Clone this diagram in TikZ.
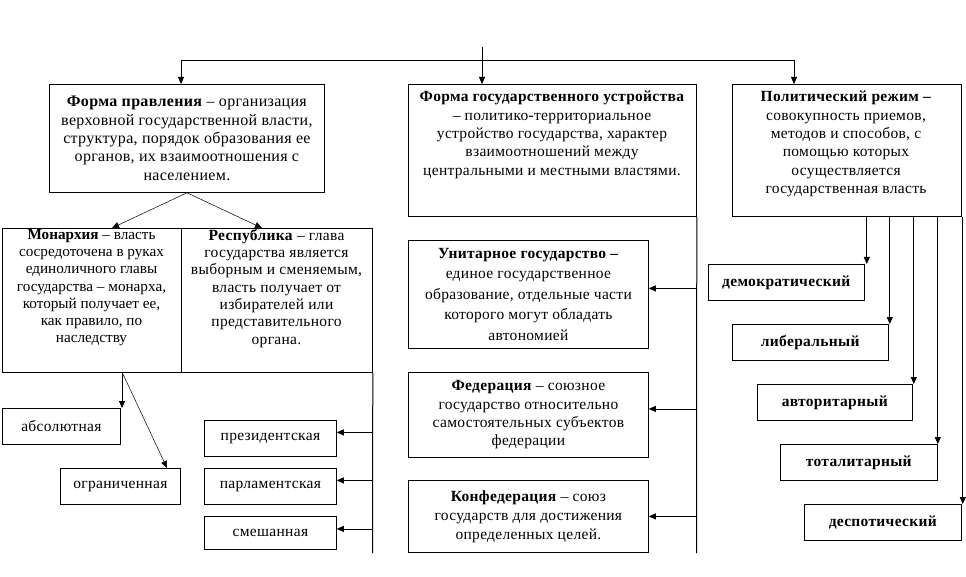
\documentclass[tikz,border=0pt]{standalone}
\usepackage{fontspec}
\setmainfont{Liberation Serif}[LetterSpace=2]
\newfontfamily\plainserif{Liberation Serif}
\usetikzlibrary{arrows.meta,calc}
\newcommand\fsz{\fontsize{15.5}{18.3}\selectfont}
\begin{document}
\begin{tikzpicture}[x=1pt,y=-1pt,
  box/.style={draw, line width=0.8pt, inner sep=0pt, align=center, font=\fsz, anchor=north west},
  txt/.style={inner sep=0pt, align=center, font=\fsz, anchor=north},
  ln/.style={line width=0.8pt},
  arr/.style={line width=0.8pt, -{Triangle[length=7pt,width=6pt]}},
  thin/.style={line width=0.5pt, -{Triangle[length=7pt,width=6pt]}}]
\fill[white] (0,0) rectangle (966,577);
\useasboundingbox (0,0) rectangle (966,577);

% top level
\node[box, minimum width=275pt, minimum height=108pt, font=\fontsize{16}{18.3}\selectfont] (b1) at (49,84)
 {\textbf{Форма правления} – организация\\верховной государственной власти,\\структура, порядок образования ее\\органов, их взаимоотношения с\\населением.};
\node[box, minimum width=288pt, minimum height=132pt] (b2) at (408,84) {};
\node[txt] (b2t) at (552,91)
 {\textbf{Форма государственного устройства}\\– политико-территориальное\\устройство государства, характер\\взаимоотношений между\\центральными и местными властями.};
\node[box, minimum width=229pt, minimum height=132pt] (b3) at (732,84) {};
\node[txt] (b3t) at (846,91)
 {\textbf{Политический режим –}\\совокупность приемов,\\методов и способов, с\\помощью которых\\осуществляется\\государственная власть};

% form of government
\node[box, minimum width=179pt, minimum height=144pt] (mon) at (2,228) {};
\node[txt, font=\plainserif\fontsize{15.2}{17.3}\selectfont] (mont) at (91.5,229)
 {\textbf{Монархия} – власть\\сосредоточена в руках\\единоличного главы\\государства – монарха,\\который получает ее,\\как правило, по\\наследству};
\node[box, minimum width=191pt, minimum height=144pt] (rep) at (181,228) {};
\node[txt, font=\fontsize{15.5}{17.3}\selectfont] (rept) at (276.5,229)
 {\textbf{Республика} – глава\\государства является\\выборным и сменяемым,\\власть получает от\\избирателей или\\представительного\\органа.};
\node[box, minimum width=118pt, minimum height=36pt] (abs) at (2,408) {абсолютная};
\node[box, minimum width=120pt, minimum height=36pt] (ogr) at (60,468) {ограниченная};
\node[box, minimum width=132pt, minimum height=36pt] (prez) at (204,420) {президентская};
\node[box, minimum width=132pt, minimum height=36pt] (parl) at (204,468) {парламентская};
\node[box, minimum width=132pt, minimum height=33pt] (smes) at (204,516) {смешанная};

% state structure
\node[box, minimum width=240pt, minimum height=108pt, font=\fontsize{15.5}{20.5}\selectfont] (unit) at (408,240)
 {\textbf{Унитарное государство –}\\единое государственное\\образование, отдельные части\\которого могут обладать\\автономией};
\node[box, minimum width=240pt, minimum height=85pt] (fed) at (408,372)
 {\textbf{Федерация} – союзное\\государство относительно\\самостоятельных субъектов\\федерации};
\node[box, minimum width=240pt, minimum height=72pt, font=\fontsize{15.5}{19}\selectfont] (konf) at (408,480)
 {\textbf{Конфедерация} – союз\\государств для достижения\\определенных целей.};

% regimes
\node[box, minimum width=156pt, minimum height=36pt] (dem) at (708,264) {\textbf{демократический}};
\node[box, minimum width=156pt, minimum height=36pt] (lib) at (732,324) {\textbf{либеральный}};
\node[box, minimum width=155pt, minimum height=36pt] (avt) at (757,384) {\textbf{авторитарный}};
\node[box, minimum width=157pt, minimum height=36pt] (tot) at (780,444) {\textbf{тоталитарный}};
\node[box, minimum width=157pt, minimum height=36pt] (desp) at (804,504) {\textbf{деспотический}};

% top connectors
\coordinate (top) at (482,47);
\coordinate (hl) at (181,60);
\coordinate (hr) at (794,60);
\draw[ln] (hl) -- (hr);
\draw[arr] (top) -- (top |- b2.north);
\draw[arr] (hl) -- (hl |- b1.north);
\draw[arr] (hr) -- (hr |- b3.north);

% form of government connectors
\coordinate (mtip) at (112,228);
\coordinate (rtip) at (262,228);
\draw[thin] (b1.south) -- (mtip);
\draw[thin] (b1.south) -- (rtip);
\coordinate (ms) at (122,372);
\coordinate (otip) at (167,468);
\draw[arr] (ms) -- (ms |- abs.north);
\draw[thin] (ms) -- (otip);
\coordinate (rend) at (372.5,553);
\draw[ln, line width=1pt] (rep.south east) -- (rend);
\draw[arr] ($(rend |- prez.east)+(0,-6)$) -- ($(prez.east)+(0,-6)$);
\draw[arr] ($(rend |- parl.east)+(0,-6)$) -- ($(parl.east)+(0,-6)$);
\draw[arr] ($(rend |- smes.east)+(0,-4)$) -- ($(smes.east)+(0,-4)$);

% state structure connectors
\coordinate (mend) at (696.5,553);
\draw[ln, line width=1pt] (b2.south east) -- (mend);
\draw[arr] ($(mend |- unit.east)+(0,-6)$) -- ($(unit.east)+(0,-6)$);
\draw[arr] ($(mend |- fed.east)+(0,-6)$) -- ($(fed.east)+(0,-6)$);
\draw[arr] (mend |- konf.east) -- (konf.east);

% regime connectors
\foreach \n/\dx in {dem/2,lib/1,avt/1,tot/0,desp/1}{
  \draw[arr] ($(b3.south -| \n.north east)+(\dx,0)$) -- ($(\n.north east)+(\dx,0)$);
}
\end{tikzpicture}
\end{document}
